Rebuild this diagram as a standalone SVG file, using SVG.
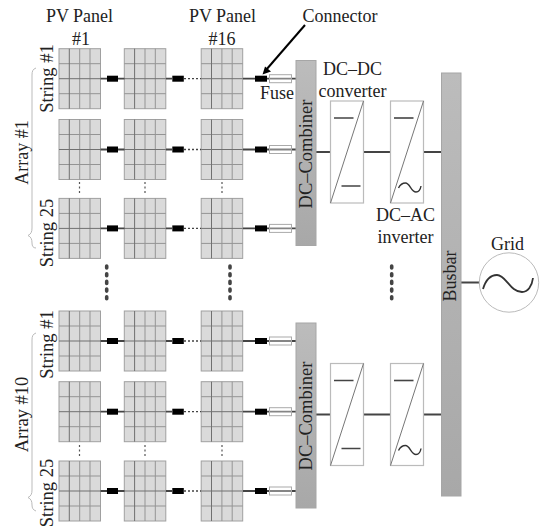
<svg xmlns="http://www.w3.org/2000/svg" width="541" height="526" viewBox="0 0 541 526">
<style>
text{font-family:"Liberation Serif","Times New Roman",serif;font-size:18px;fill:#222;text-anchor:middle}
.lg{font-size:18.5px}
.pbg{fill:#dadada;stroke:#a0a0a0;stroke-width:1}
.pl{stroke:#949494;stroke-width:1;fill:none}
.pd{stroke:#707070;stroke-width:1;fill:none}
.w{stroke:#444;stroke-width:1.8;fill:none}
.dot{stroke:#444;stroke-width:1.3;stroke-dasharray:2 2;fill:none}
.vd{stroke:#555;stroke-width:1.2;stroke-dasharray:2 2.5;fill:none}
.bd{stroke:#444;stroke-width:3.6;stroke-linecap:round;stroke-dasharray:2 5.7;fill:none}
.c{fill:#000}
.f{fill:#fff;fill-opacity:.35;stroke:#aaa;stroke-width:1}
.bar{fill:url(#g);stroke:#a6a6a6;stroke-width:1}
.box{fill:#fff;stroke:#bbb;stroke-width:1.2}
.diag{stroke:#777;stroke-width:1;fill:none}
.dash{stroke:#444;stroke-width:1.6;fill:none}
.br{stroke:#bbb;stroke-width:1;fill:none}
</style>
<defs>
<linearGradient id="g" x1="0" y1="0" x2="0" y2="1"><stop offset="0" stop-color="#bcbcbc"/><stop offset="1" stop-color="#a8a8a8"/></linearGradient>
<g id="panel">
<rect class="pbg" x="0" y="0" width="41.5" height="60"/>
<path class="pl" d="M20.7 0V60M31 0V60M0 15H41.5M0 45H41.5"/>
<path class="pd" d="M10.3 0V60M0 30H41.5"/>
</g>
<g id="row">
<use href="#panel" x="59"/><use href="#panel" x="124.3"/><use href="#panel" x="201.2"/>
<path class="w" d="M100.500 30H124.500M166 30H172M243 30H296"/>
<path class="dot" d="M184 30H201"/>
<rect class="c" x="107" y="27" width="11" height="6"/>
<rect class="c" x="172.300" y="27" width="11.500" height="6"/>
<rect class="c" x="255" y="27" width="12" height="6"/>
<rect class="f" x="269.500" y="26" width="22" height="8"/>
</g>
<g id="conv">
<rect class="box" x="330.500" y="0" width="33" height="102"/>
<path class="diag" d="M330.500 102L363.500 0"/>
<path class="dash" d="M334 17H353.500M341.500 85H360.500"/>
</g>
<g id="inv">
<rect class="box" x="390.500" y="0" width="33" height="102"/>
<path class="diag" d="M390.500 102L423.500 0"/>
<path class="dash" d="M394 17H413.500"/>
<path d="M398.500 87C400 84 403 82 405.500 82C410 82 411 91 416 91C419 91 420.500 88 421 85" stroke="#333" stroke-width="1.400" fill="none"/>
</g>
</defs>

<g id="connectors">
<path class="w" d="M316 152H331M363 152H391M423 152H442M316 414.500H331M363 414.500H391M423 414.500H442M461 282.500H480"/>
<path d="M305 25L266 70" stroke="#000" stroke-width="2" fill="none"/>
<path d="M262.500 74.500L265 66.500L271 71.500Z" fill="#000"/>
<path class="vd" d="M79.500 182V195M145 182V195M222 182V195M79.500 445V458M145 445V458M222 445V458"/>
<path class="bd" d="M106.700 266V300M230 266V300M391.700 266V300"/>
</g>

<g id="array1">
<use id="a1s1" href="#row" y="48.7"/>
<use id="a1s2" href="#row" y="119.5"/>
<use id="a1s25" href="#row" y="198.4"/>
</g>
<g id="array10">
<use id="a10s1" href="#row" y="311"/>
<use id="a10s2" href="#row" y="381.7"/>
<use id="a10s25" href="#row" y="461"/>
</g>

<g id="dc-combiner-1"><rect class="bar" x="296" y="60.500" width="20" height="185"/>
<text class="lg" transform="translate(311.500,154) rotate(-90)">DC–Combiner</text></g>
<g id="dc-combiner-2"><rect class="bar" x="296" y="323" width="20" height="185"/>
<text class="lg" transform="translate(311.500,416) rotate(-90)">DC–Combiner</text></g>
<g id="busbar"><rect class="bar" x="441.500" y="73" width="19.500" height="423"/>
<text transform="translate(456,276) rotate(-90)">Busbar</text></g>

<g id="dcdc-1"><use href="#conv" y="101"/></g>
<g id="dcac-1"><use href="#inv" y="101"/></g>
<g id="dcdc-2"><use href="#conv" y="363.500"/></g>
<g id="dcac-2"><use href="#inv" y="363.500"/></g>

<g id="grid">
<circle cx="509" cy="282.500" r="29.700" fill="#fff" stroke="#bbb"/>
<path d="M483 289C486 279 491 275 497 275C506 275 510 292 522 292C528 292 532 286 533 278" stroke="#333" stroke-width="1.800" fill="none"/>
<text x="507.500" y="249.500">Grid</text>
</g>

<g id="braces">
<path class="br" d="M36 68C33 69 32 71 32 75V228C32 232 31 234 28 235.500C31 237 32 239 32 243C32 246 33 248 36 248"/>
<path class="br" d="M36 333C33 334 32 336 32 340V490C32 494 31 496 28 497.500C31 499 32 501 32 505C32 508 33 510 36 511"/>
</g>

<g id="labels">
<text x="79.500" y="22">PV Panel</text>
<text x="81" y="44.500">#1</text>
<text x="222.500" y="22">PV Panel</text>
<text x="222" y="44.500">#16</text>
<text x="340" y="22">Connector</text>
<text x="277" y="99">Fuse</text>
<text x="352.500" y="75">DC–DC</text>
<text x="352.500" y="97">converter</text>
<text x="405.500" y="221">DC–AC</text>
<text x="405.500" y="243">inverter</text>
<text class="lg" transform="translate(53,78.500) rotate(-90)">String #1</text>
<text class="lg" transform="translate(53,233) rotate(-90)">String 25</text>
<text class="lg" transform="translate(53,344.500) rotate(-90)">String #1</text>
<text class="lg" transform="translate(53,493) rotate(-90)">String 25</text>
<text transform="translate(28,152.500) rotate(-90)">Array #1</text>
<text class="lg" transform="translate(28,414.500) rotate(-90)">Array #10</text>
</g>
</svg>
